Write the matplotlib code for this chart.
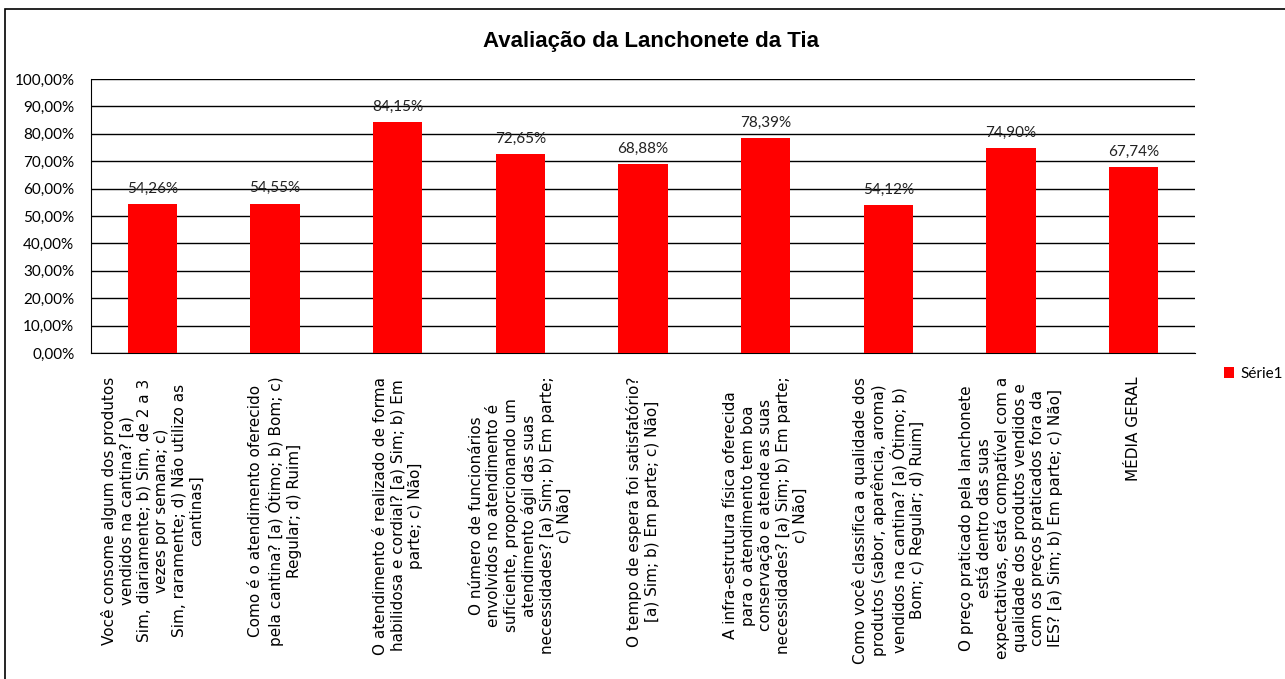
import matplotlib.pyplot as plt
import matplotlib.patches as patches
from matplotlib import font_manager
import numpy as np

categories = [
    "Você consome algum dos produtos\nvendidos na cantina? [a)\nSim, diariamente; b) Sim, de 2 a 3\nvezes por semana; c)\nSim, raramente; d) Não utilizo as\ncantinas]",
    "Como é o atendimento oferecido\npela cantina? [a) Ótimo; b) Bom; c)\nRegular; d) Ruim]",
    "O atendimento é realizado de forma\nhabilidosa e cordial? [a) Sim; b) Em\nparte; c) Não]",
    "O número de funcionários\nenvolvidos no atendimento é\nsuficiente, proporcionando um\natendimento ágil das suas\nnecessidades? [a) Sim; b) Em parte;\nc) Não]",
    "O tempo de espera foi satisfatório?\n[a) Sim; b) Em parte; c) Não]",
    "A infra-estrutura física oferecida\npara o atendimento tem boa\nconservação e atende as suas\nnecessidades? [a) Sim; b) Em parte;\nc) Não]",
    "Como você classifica a qualidade dos\nprodutos (sabor, aparência, aroma)\nvendidos na cantina? [a) Ótimo; b)\nBom; c) Regular; d) Ruim]",
    "O preço praticado pela lanchonete\nestá dentro das suas\nexpectativas, está compatível com a\nqualidade dos produtos vendidos e\ncom os preços praticados fora da\nIES? [a) Sim; b) Em parte; c) Não]",
    "MÉDIA GERAL",
]
values = [54.26, 54.55, 84.15, 72.65, 68.88, 78.39, 54.12, 74.90, 67.74]
yticks = np.arange(0, 101, 10)

installed = {f.name for f in font_manager.fontManager.ttflist}
title_font = "DejaVu Sans"
for name in ["Liberation Sans Narrow", "Liberation Sans"]:
    if name in installed:
        title_font = name
        break

plt.rcParams['font.family'] = ['DejaVu Sans']
num_font = ['Lato', 'DejaVu Sans']

fig = plt.figure(figsize=(12.85, 6.79), dpi=100)
ax = fig.add_axes([91/1285, 1 - 353/679, (1195 - 91)/1285, (353 - 79)/679])

x = np.arange(len(values))
bars = ax.bar(x, values, width=0.4, color="#ff0000", zorder=3, label="Série1")

for xi, v in zip(x, values):
    ax.text(xi, v + 3, f"{v:.2f}%".replace(".", ","), ha="center", va="bottom",
            fontsize=11, family=num_font, color="#222222")

ax.set_ylim(0, 100)
ax.set_xlim(-0.5, len(values) - 0.5)
ax.set_yticks(yticks)
ax.set_yticklabels([f"{t:.2f}%".replace(".", ",") for t in yticks], fontsize=11,
                   family=num_font)
ax.yaxis.grid(True, color="black", linewidth=1, zorder=0)
ax.tick_params(axis="y", length=0, pad=12)
ax.tick_params(axis="x", length=0, pad=17)
ax.set_xticks(x)
ax.set_xticklabels(categories, rotation=90, ha="center", va="top", fontsize=11,
                   multialignment="center", linespacing=1.2)
for s in ["top", "right"]:
    ax.spines[s].set_visible(False)
ax.spines["left"].set_color("black")
ax.spines["bottom"].set_color("black")

fig.text(651/1285, 1 - 42/679, "Avaliação da Lanchonete da Tia", ha="center", va="center",
         fontsize=16, fontweight="bold", family=[title_font, 'DejaVu Sans'])

fig.legend(handles=[bars], labels=["Série1"], loc="center left",
           bbox_to_anchor=(1210/1285, 1 - 374/679), frameon=False,
           handlelength=0.7, handleheight=0.7, handletextpad=0.4,
           prop={'family': num_font, 'size': 11})

fig.patches.append(patches.Rectangle((5/1285, -0.1), 1.2, 1 - 9/679 + 0.1,
                                     transform=fig.transFigure, fill=False,
                                     edgecolor="black", linewidth=1.2))

fig.savefig("out.png", dpi=100)
